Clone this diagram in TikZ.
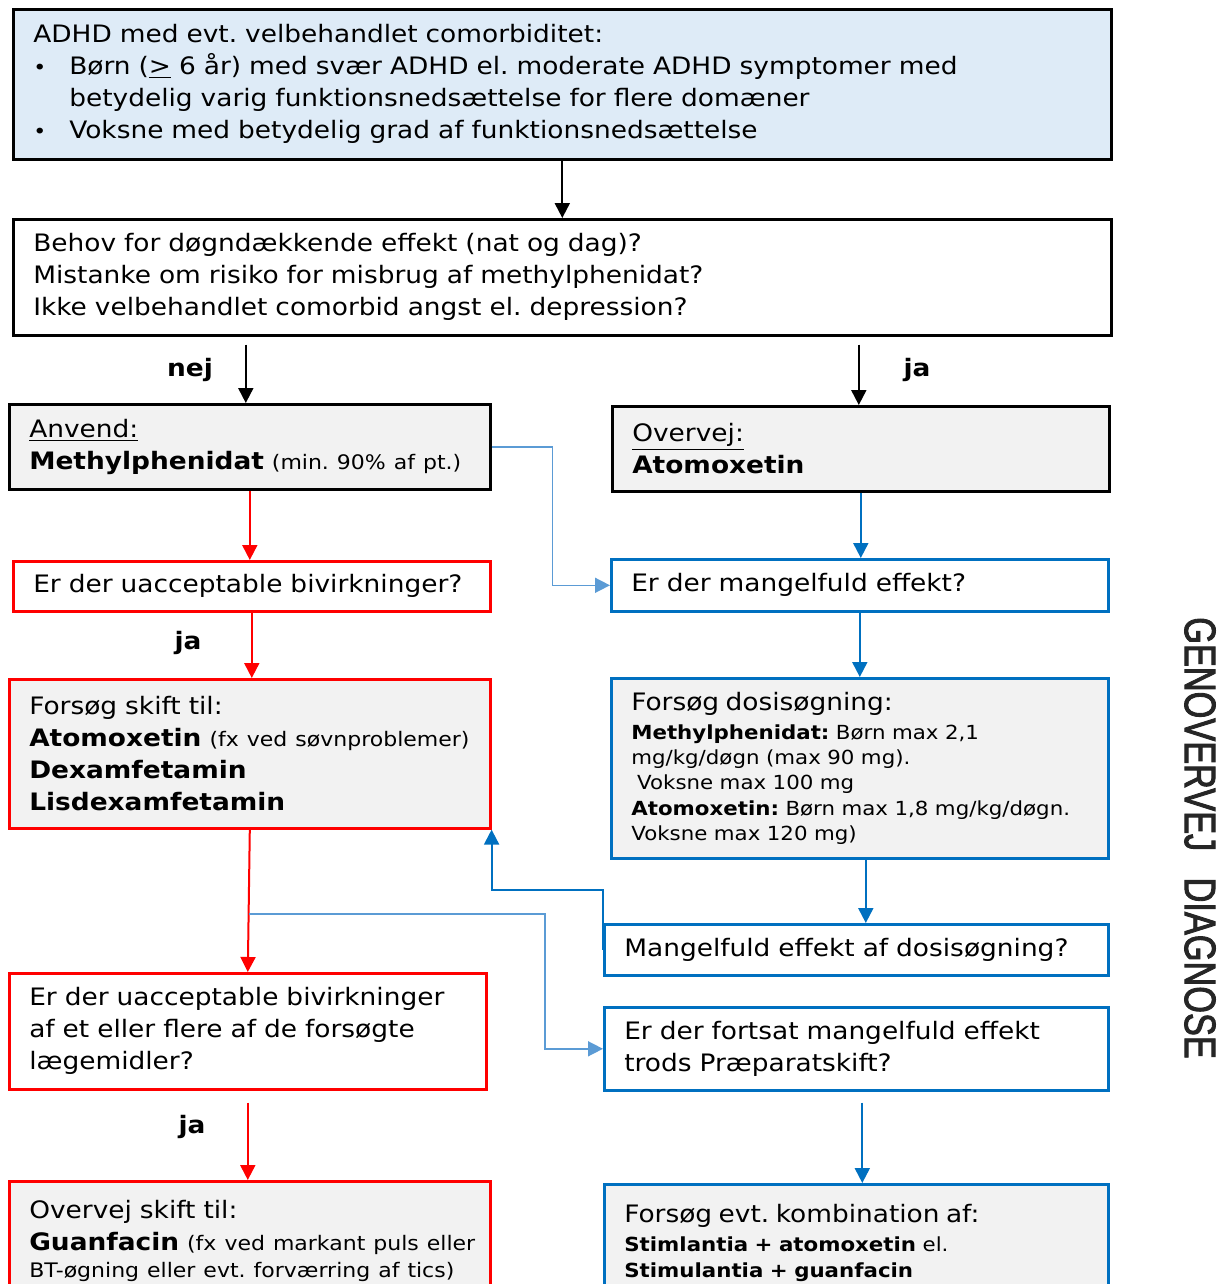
\documentclass[tikz,border=0pt]{standalone}
\usepackage{fontspec}
\setmainfont{DejaVu Sans}[FakeStretch=1.1]
\newfontfamily\sidefont{Liberation Sans}[FakeStretch=0.78,FakeBold=2]
\usetikzlibrary{arrows.meta,calc}
\definecolor{topfill}{HTML}{DEEBF7}
\definecolor{greyfill}{HTML}{F2F2F2}
\definecolor{redline}{HTML}{FF0000}
\definecolor{blueline}{HTML}{0070C0}
\definecolor{paleline}{HTML}{5B9BD5}
\newcommand{\mainsz}{\fontsize{12}{16}\selectfont}
\newcommand{\smallsz}{\fontsize{10}{12.5}\selectfont}
\newcommand{\dosesz}{\fontsize{9.7}{12.7}\selectfont}
\frenchspacing
\tikzset{
  flowbox/.style={draw,line width=1.3pt,anchor=north west,inner xsep=10pt,inner ysep=0pt,align=left,font=\mainsz},
  blackbox/.style={flowbox,draw=black},
  redbox/.style={flowbox,draw=redline},
  bluebox/.style={flowbox,draw=blueline},
  blackarrow/.style={-{Triangle[length=7.5pt,width=7.5pt]},line width=1pt,black},
  redarrow/.style={-{Triangle[length=7.5pt,width=7.5pt]},line width=1pt,redline},
  bluearrow/.style={-{Triangle[length=7.5pt,width=7.5pt]},line width=1pt,blueline},
  palearrow/.style={-{Triangle[length=7.5pt,width=7.5pt]},line width=0.8pt,paleline},
  answer/.style={font=\mainsz\bfseries}
}
\begin{document}
\frenchspacing
\begin{tikzpicture}[x=0.5pt,y=-0.5pt]
  \useasboundingbox (0,0) rectangle (1222,1284);
  \clip (0,0) rectangle (1222,1284);

  % Indication and screening questions
  \node[blackbox,fill=topfill,text width=529pt,minimum height=75pt] (top) at (12,8)
    {ADHD med evt. velbehandlet comorbiditet:\\
     \makebox[18pt][l]{\smallsz\textbullet}Børn (\underline{>} 6 år) med svær ADHD el. moderate ADHD symptomer med\\
     \hspace*{18pt}betydelig varig funktionsnedsættelse for flere domæner\\
     \makebox[18pt][l]{\smallsz\textbullet}Voksne med betydelig grad af funktionsnedsættelse};
  \node[blackbox,text width=529pt,minimum height=58pt] (crit) at (12,218)
    {Behov for døgndækkende effekt (nat og dag)?\\
     Mistanke om risiko for misbrug af methylphenidat?\\
     Ikke velbehandlet comorbid angst el. depression?};

  % Left column (side effects)
  \node[blackbox,fill=greyfill,text width=220.5pt,minimum height=42.5pt] (anvend) at (8,403)
    {\underline{Anvend:}\\
     \mbox{\textbf{Methylphenidat} {\smallsz (min. 90\% af pt.)}}};
  \node[redbox,text width=218.5pt,minimum height=25pt] (bivirk) at (12,560)
    {Er der uacceptable bivirkninger?};
  \node[redbox,fill=greyfill,text width=220.5pt,minimum height=74.5pt] (skift) at (8,678)
    {Forsøg skift til:\\
     \mbox{\textbf{Atomoxetin} {\smallsz (fx ved søvnproblemer)}}\\
     \textbf{Dexamfetamin}\\
     \textbf{Lisdexamfetamin}};
  \node[redbox,text width=218.5pt,minimum height=58pt] (bivirkto) at (8,972)
    {Er der uacceptable bivirkninger\\
     af et eller flere af de forsøgte\\
     lægemidler?};
  \node[redbox,fill=greyfill,text width=220.5pt,minimum height=60pt] (guanf) at (8,1180)
    {Overvej skift til:\\
     \mbox{\textbf{Guanfacin} {\smallsz (fx ved markant puls eller}}\\[-2.5pt]
     \mbox{\smallsz BT-øgning eller evt. forværring af tics)}};

  % Right column (effect)
  \node[blackbox,fill=greyfill,text width=228.5pt,minimum height=42.5pt] (overvej) at (611,405)
    {\underline{Overvej:}\\
     \textbf{Atomoxetin}};
  \node[bluebox,text width=228.5pt,minimum height=26pt] (mangel) at (610,558)
    {Er der mangelfuld effekt?};
  \node[bluebox,fill=greyfill,font=\dosesz,text width=228.5pt,minimum height=90pt] (dosis) at (610,677)
    {{\mainsz Forsøg dosisøgning:}\\[1.8pt]
     \textbf{Methylphenidat:} Børn max 2,1\\
     mg/kg/døgn (max 90 mg).\\
     \hspace*{0.3em}Voksne max 100 mg\\
     \mbox{\textbf{Atomoxetin:} Børn max 1,8 mg/kg/døgn.}\\
     Voksne max 120 mg)};
  \node[bluebox,text width=232pt,minimum height=25.5pt] (dosmangel) at (603,923)
    {Mangelfuld effekt af dosisøgning?};
  \node[bluebox,text width=232pt,minimum height=41.5pt] (fortsat) at (603,1006)
    {Er der fortsat mangelfuld effekt\\
     trods Præparatskift?};
  \node[bluebox,fill=greyfill,font=\dosesz,text width=232pt,minimum height=58.5pt] (kombi) at (603,1183)
    {{\mainsz Forsøg evt. kombination af:}\\[1.8pt]
     \textbf{Stimlantia + atomoxetin} el.\\
     \textbf{Stimulantia + guanfacin}};

  \node[font={\sidefont\fontsize{22}{26}\selectfont},text=black!85,rotate=-90] (side) at (1200,838)
    {GENOVERVEJ\hspace{0.6em}DIAGNOSE};

  % Answers
  \node[answer] (nej) at (190,370) {nej};
  \node[answer] (jaa) at (917,370) {ja};
  \node[answer] (jab) at (188,643) {ja};
  \node[answer] (jac) at (192,1127) {ja};

  % Connectors
  \draw[blackarrow] (top.south) -- (crit.north);
  \draw[blackarrow] ($(crit.south -| anvend.north)+(-4,8)$) -- ($(anvend.north)+(-4,0)$);
  \draw[blackarrow] ($(crit.south -| overvej.north)+(-2,8)$) -- ($(overvej.north)+(-2,0)$);
  \draw[redarrow] (anvend.south) -- (anvend.south |- bivirk.north);
  \draw[redarrow] (bivirk.south) -- (bivirk.south |- skift.north);
  \coordinate (split) at ($(skift.south)!0.594!(bivirkto.north)$);
  \coordinate (bendb) at (545,912);
  \draw[redarrow] (skift.south) -- (bivirkto.north);
  \draw[redarrow] ($(bivirkto.south)+(0,12)$) -- (bivirkto.south |- guanf.north);
  \draw[palearrow] (anvend.east) -- ++(61,0) |- (mangel.west);
  \draw[palearrow] (split) -- (split -| bendb) |- (fortsat.west);
  \draw[bluearrow] (overvej.south) -- (overvej.south |- mangel.north);
  \draw[bluearrow] (mangel.south) -- (mangel.south |- dosis.north);
  \draw[bluearrow] ($(dosis.south)+(6,0)$) -- ($(dosis.south |- dosmangel.north)+(6,0)$);
  \draw[bluearrow] (dosmangel.west) -- ++(0,-60) -| (skift.south east);
  \draw[bluearrow] ($(fortsat.south)+(6,11)$) -- ($(fortsat.south |- kombi.north)+(6,0)$);
\end{tikzpicture}
\end{document}
